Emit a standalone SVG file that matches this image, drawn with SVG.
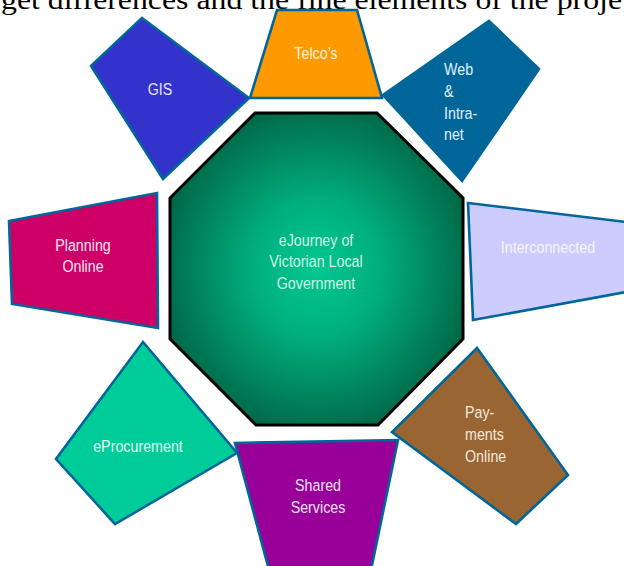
<svg xmlns="http://www.w3.org/2000/svg" width="624" height="566" viewBox="0 0 624 566">
<defs>
<radialGradient id="hub" cx="0.5" cy="0.5" r="0.6">
<stop offset="0" stop-color="#00C890"/>
<stop offset="0.35" stop-color="#00B07E"/>
<stop offset="1" stop-color="#005A3E"/>
</radialGradient>
</defs>
<style>
.pet{stroke:#006699;stroke-width:2.6;stroke-linejoin:miter}
.lbl{font-family:"Liberation Sans",Arial,sans-serif;font-size:17px}
.c{text-anchor:middle}
.head{font-family:"Liberation Serif","Times New Roman",serif;font-size:27px;fill:#000}
</style>
<rect width="624" height="566" fill="#fff"/>
<text class="head" x="1" y="9" textLength="621" lengthAdjust="spacingAndGlyphs">get differences and the fine elements of the proje</text>

<g id="gis">
<polygon class="pet" points="142,18 249,98 163,179 91,66" fill="#3333CC"/>
<text class="lbl c" transform="translate(160,95) scale(0.84,1)" fill="#E4E4FF">GIS</text>
</g>
<g id="telcos">
<polygon class="pet" points="277,10 357,10 382,98 250,98" fill="#FF9900"/>
<text class="lbl c" transform="translate(316,59) scale(0.84,1)" fill="#FFF2E0">Telco’s</text>
</g>
<g id="web">
<polygon class="pet" points="489,21 539,69 462,181 383,95" fill="#006699"/>
<text class="lbl" transform="translate(444,0) scale(0.84,1)" fill="#E0F0FF"><tspan x="0" y="75">Web</tspan><tspan x="0" y="97">&amp;</tspan><tspan x="0" y="119">Intra-</tspan><tspan x="0" y="140">net</tspan></text>
</g>
<g id="interconnected">
<polygon class="pet" points="468,203 626,222 626,292 473,320" fill="#CCCCFF"/>
<text class="lbl c" transform="translate(548,253) scale(0.84,1)" fill="#F6F6FF">Interconnected</text>
</g>
<g id="payments">
<polygon class="pet" points="477,348 568,475 516,524 392,432" fill="#996633"/>
<text class="lbl" transform="translate(465,0) scale(0.84,1)" fill="#F2E8DC"><tspan x="0" y="418">Pay-</tspan><tspan x="0" y="440">ments</tspan><tspan x="0" y="462">Online</tspan></text>
</g>
<g id="shared">
<polygon class="pet" points="235,443 398,440 371,570 269,570" fill="#990099"/>
<text class="lbl c" transform="translate(318,0) scale(0.84,1)" fill="#F4E0F4"><tspan x="0" y="491">Shared</tspan><tspan x="0" y="513">Services</tspan></text>
</g>
<g id="eprocurement">
<polygon class="pet" points="143,342 237,453 115,524 56,459" fill="#00CC99"/>
<text class="lbl c" transform="translate(138,452) scale(0.84,1)" fill="#E0FFF2">eProcurement</text>
</g>
<g id="planning">
<polygon class="pet" points="9,221 157,193 158,328 12,304" fill="#CC0066"/>
<text class="lbl c" transform="translate(83,0) scale(0.84,1)" fill="#FFE4F0"><tspan x="0" y="251">Planning</tspan><tspan x="0" y="272">Online</tspan></text>
</g>
<g id="hub-node">
<polygon points="255,113 377,113 463,198 463,339 378,425 256,425 170,339 170,198" fill="url(#hub)" stroke="#000" stroke-width="3"/>
<text class="lbl c" transform="translate(316,0) scale(0.84,1)" fill="#D4F4E6"><tspan x="0" y="246">eJourney of</tspan><tspan x="0" y="267">Victorian Local</tspan><tspan x="0" y="289">Government</tspan></text>
</g>
</svg>
